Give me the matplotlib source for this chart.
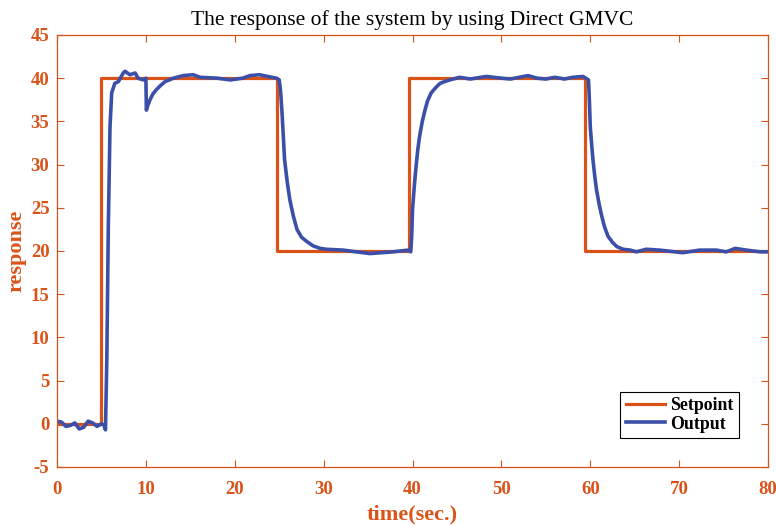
import matplotlib
matplotlib.use("Agg")
import matplotlib.pyplot as plt

# setpoint (step signal)
sp_t = [0, 4.9, 4.9, 24.8, 24.8, 39.6, 39.6, 59.4, 59.4, 80]
sp_v = [0, 0, 40, 40, 20, 20, 40, 40, 20, 20]

# measured output
out_t = [0, 0.5, 1.0, 1.5, 2.0, 2.5, 3.0, 3.5, 4.0, 4.5, 5.0, 5.3, 5.45,
         5.6, 5.77, 5.96, 6.15, 6.5, 6.9, 7.45, 7.65, 8.2, 8.8, 9.1, 9.7, 10.0,
         10.05, 10.2, 10.46, 10.8, 11.2, 11.7, 12.15, 13.1, 14.2, 15.3, 16.1,
         18.0, 19.5, 20.9, 21.7, 22.8, 23.2, 24.7,
         25.0, 25.15, 25.3, 25.45, 25.6, 25.9, 26.2, 26.6, 27.0, 27.5, 28.1,
         28.8, 29.6, 30.3, 32.2, 35.2, 37.8, 39.5,
         39.8, 39.9, 40.0, 40.2, 40.4, 40.6, 40.8, 41.1, 41.4, 41.7, 42.1, 42.6,
         43.1, 43.6, 44.2, 45.3, 46.5, 48.3, 50.0, 51.0, 52.0, 53.0, 54.0, 55.0,
         56.0, 56.6, 57.1, 58.0, 59.2,
         59.8, 59.9, 60.0, 60.15, 60.3, 60.5, 60.7, 61.0, 61.3, 61.6, 62.0,
         62.5, 63.0, 63.7, 64.5, 65.2, 66.3, 67.8, 70.4, 72.3, 74.2, 75.3, 76.3,
         77.6, 79.1, 80.0]
out_v = [0.3, 0.2, -0.3, -0.2, 0.1, -0.6, -0.4, 0.3, 0.1, -0.3, 0.0, -0.2, -0.7,
         7.4, 22.8, 34.4, 38.3, 39.4, 39.6, 40.6, 40.8, 40.4, 40.6, 40.0, 39.8, 40.0,
         36.3, 36.8, 37.5, 38.2, 38.7, 39.2, 39.6, 40.0, 40.3, 40.4, 40.1,
         40.0, 39.8, 40.0, 40.3, 40.4, 40.3, 40.0,
         39.8, 38.5, 36.3, 33.5, 30.6, 28.0, 25.9, 24.0, 22.5, 21.6, 21.1,
         20.6, 20.3, 20.2, 20.1, 19.7, 19.9, 20.1,
         19.9, 21.5, 24.8, 27.5, 29.8, 31.8, 33.3, 35.0, 36.3, 37.4, 38.3, 38.9,
         39.4, 39.6, 39.8, 40.1, 39.9, 40.2, 40.0, 39.9, 40.1, 40.3, 40.0, 39.9,
         40.1, 40.0, 39.9, 40.1, 40.2,
         39.8, 37.5, 34.4, 32.4, 30.6, 28.7, 27.1, 25.4, 24.0, 22.8, 21.7,
         21.0, 20.5, 20.2, 20.1, 19.9, 20.2, 20.1, 19.8, 20.1, 20.1, 19.9, 20.3,
         20.1, 19.9, 19.9]

x_ticks = [0, 10, 20, 30, 40, 50, 60, 70, 80]
y_ticks = [-5, 0, 5, 10, 15, 20, 25, 30, 35, 40, 45]

orange = "#D95319"
blue = "#3B4FA8"

plt.rcParams["font.family"] = ["Liberation Serif", "DejaVu Serif"]
plt.rcParams["axes.unicode_minus"] = False

fig = plt.figure(figsize=(7.76, 5.26), dpi=100)
ax = fig.add_axes([0.0735, 0.1122, 0.9162, 0.8213])

ax.plot(sp_t, sp_v, color=orange, lw=2.3, label="Setpoint")
ax.plot(out_t, out_v, color=blue, lw=2.6, label="Output")

ax.set_xlim(0, 80)
ax.set_ylim(-5, 45)
ax.set_xticks(x_ticks)
ax.set_yticks(y_ticks)
ax.tick_params(direction="in", length=5, width=0.8, colors=orange,
               top=True, right=True, labelsize=13.5)
ax.tick_params(axis="x", pad=10)
ax.tick_params(axis="y", pad=5.5)
for lbl in ax.get_xticklabels() + ax.get_yticklabels():
    lbl.set_fontweight("bold")
for s in ax.spines.values():
    s.set_color(orange)
    s.set_linewidth(0.9)

ax.set_xlabel("time(sec.)", color=orange, fontsize=16, fontweight="bold", labelpad=5)
ax.set_ylabel("response", color=orange, fontsize=16, fontweight="bold", labelpad=3)
ax.set_title("The response of the system by using Direct GMVC", fontsize=15.5, pad=7)

leg = ax.legend(loc="lower right", bbox_to_anchor=(0.959, 0.067), fancybox=False,
                edgecolor="black", framealpha=1, borderpad=0.3, handlelength=2.2,
                handletextpad=0.3, labelspacing=0.1, borderaxespad=0,
                prop={"weight": "bold", "size": 12.8})
leg.get_frame().set_linewidth(0.8)

fig.savefig("out.png", dpi=100)
